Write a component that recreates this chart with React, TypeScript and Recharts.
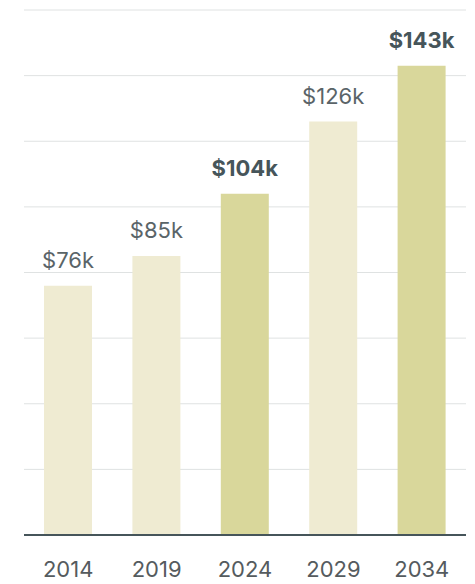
import React from 'react';
import { BarChart, Bar, XAxis, YAxis, CartesianGrid, Cell, LabelList } from 'recharts';

const years = ['2014', '2019', '2024', '2029', '2034'];
const incomes = [76, 85, 104, 126, 143];
const highlighted = ['2024', '2034'];
const yTicks = [0, 20, 40, 60, 80, 100, 120, 140, 160];

const data = years.map((year, i) => ({ year, value: incomes[i] }));

const ValueLabel = (props: any) => {
  const { x, y, width, value, index } = props;
  const bold = highlighted.includes(years[index]);
  return (
    <text
      x={x + width / 2}
      y={y - 18}
      textAnchor="middle"
      fill={bold ? '#46555a' : '#5a6468'}
      fontSize={22}
      fontWeight={bold ? 700 : 400}
      fontFamily="Inter, sans-serif"
    >
      {`$${value}k`}
    </text>
  );
};

export default function App() {
  return (
    <div style={{ position: 'absolute', left: 0, top: 0, width: 475, height: 584, background: '#fff' }}>
      <BarChart
        width={475}
        height={584}
        data={data}
        margin={{ top: 10, right: 9, left: 24, bottom: 0 }}
        style={{ fontFamily: 'Inter, sans-serif' }}
      >
        <CartesianGrid vertical={false} stroke="#dfe2e2" strokeWidth={1} />
        <YAxis hide domain={[0, 160]} ticks={yTicks} />
        <XAxis
          dataKey="year"
          height={49}
          axisLine={{ stroke: '#46555a', strokeWidth: 2 }}
          tickLine={false}
          tick={{ fill: '#555b5e', fontSize: 22 }}
          dy={18}
        />
        <Bar dataKey="value" barSize={48} isAnimationActive={false}>
          {data.map((d, i) => (
            <Cell key={`cell-${i}`} fill={highlighted.includes(d.year) ? '#d9d79b' : '#efebd2'} />
          ))}
          <LabelList dataKey="value" content={<ValueLabel />} />
        </Bar>
      </BarChart>
    </div>
  );
}
